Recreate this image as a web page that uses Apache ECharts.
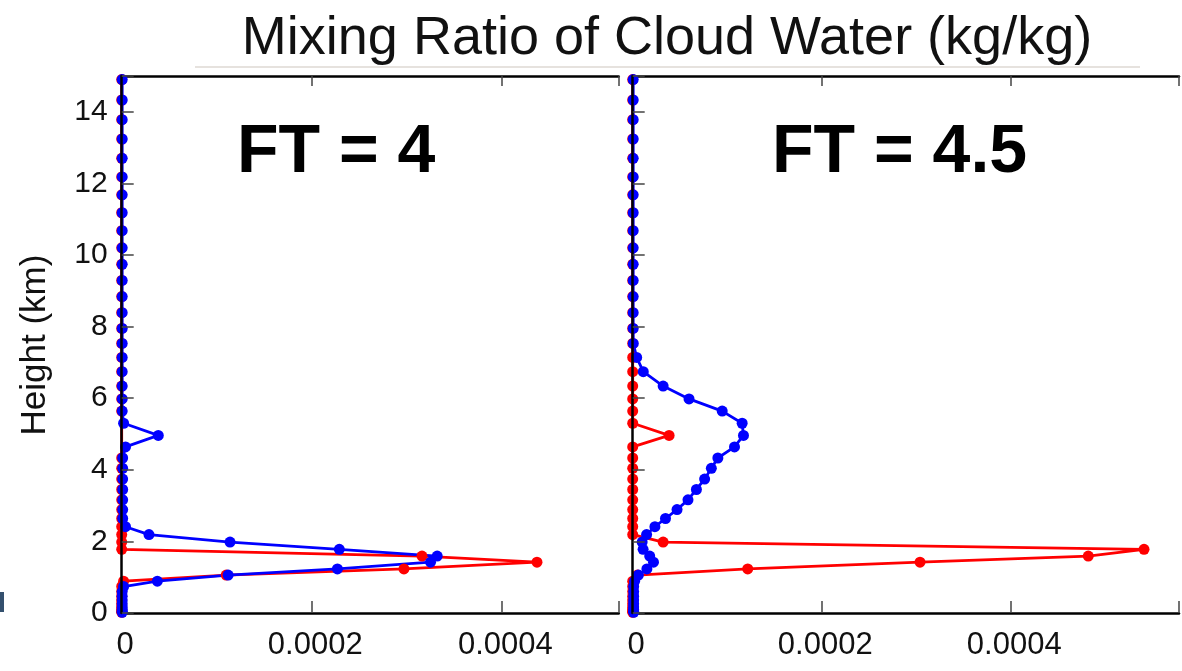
<!DOCTYPE html>
<html>
<head>
<meta charset="utf-8">
<script src="https://cdn.jsdelivr.net/npm/echarts@6/dist/echarts.min.js"></script>
<style>
html,body{margin:0;padding:0;background:#fff;}
#chart{width:1182px;height:671px;}
</style>
</head>
<body>
<div id="chart"></div>
<script>
// Model level heights (km), bottom to top
const heights = [0.02,0.05,0.10,0.17,0.26,0.36,0.47,0.60,0.74,0.89,1.06,1.23,1.42,1.59,1.78,1.98,2.19,2.41,2.64,2.89,3.16,3.45,3.74,4.04,4.33,4.64,4.96,5.30,5.64,5.98,6.34,6.74,7.14,7.53,7.95,8.39,8.84,9.29,9.74,10.20,10.68,11.18,11.68,12.18,12.70,13.24,13.78,14.33,14.90];

// FT = 4 panel (null = no red marker drawn at that level)
const leftRed = [0,0,0,0,0,0,0,0,0,0.000002,0.00011,0.000297,0.000437,0.000316,0,0,0,0,0,0,0,0,0,0,0,null,null,null,0,0,0,0,0,0,0,0,0,0,0,0,0,0,0,0,0,0,0,0,0];
const leftBlue = [0.0000005,0.0000005,0.0000005,0.0000005,0.0000005,0.0000005,0.0000005,0.0000005,0.000002,0.0000375,0.000112,0.000227,0.000325,0.000332,0.000229,0.000114,0.0000287,0.000004,0.000001,0.000001,0.000001,0.000001,0.000001,0.000001,0.000001,0.000004,0.0000385,0.000002,0.0000005,0.0000005,0.0000005,0.0000005,0.0000005,0.0000005,0.0000005,0.0000005,0.0000005,0.0000005,0.0000005,0.0000005,0.0000005,0.0000005,0.0000005,0.0000005,0.0000005,0.0000005,0.0000005,0.0000005,0.0000005];

// FT = 4.5 panel
const rightRed = [0,0,0,0,0,0,0,0,0,0,0.000005,0.0001217,0.000304,0.000482,0.000541,0.0000322,0,0,0,0,0,0,0,0,0,0,0.0000385,0,0,0,0,0,0,0,0,0,0,0,0,0,0,0,0,0,0,0,0,0,0];
const rightBlue = [0.000001,0.000001,0.000001,0.000001,0.000001,0.000001,0.000001,0.000001,0.000001,0.000002,0.000006,0.000015,0.000022,0.000018,0.000011,0.000010,0.0000147,0.0000235,0.0000347,0.0000469,0.0000585,0.0000674,0.0000761,0.0000832,0.0000901,0.0001077,0.0001172,0.0001158,0.0000947,0.0000596,0.0000322,0.0000112,0.0000042,0.0000006,0.0000005,0.0000005,0.0000005,0.0000005,0.0000005,0.0000005,0.0000005,0.0000005,0.0000005,0.0000005,0.0000005,0.0000005,0.0000005,0.0000005,0.0000005];

const panelLabels = ['FT = 4', 'FT = 4.5'];
const xTickLabels = ['0', '0.0002', '0.0004'];
const titleText = 'Mixing Ratio of Cloud Water (kg/kg)';
const yName = 'Height (km)';

const pairs = (xs) => xs.map((v, i) => [v, heights[i]]).filter(p => p[0] !== null);
const FONT = '"Liberation Sans", Arial, sans-serif';

const chart = echarts.init(document.getElementById('chart'), null, {renderer: 'canvas'});

function xBottom(gi, max) {
  return {
    type: 'value', gridIndex: gi, min: 0, max: max, interval: 0.0002, position: 'bottom',
    axisLine: {show: true, lineStyle: {color: '#000', width: 2.5}},
    axisTick: {show: true, inside: true, length: 12, lineStyle: {color: '#444', width: 1.5}},
    splitLine: {show: false},
    axisLabel: {
      show: true, margin: 17, color: '#111', fontSize: 31, fontFamily: FONT, padding: [0, 0, 0, 7],
      formatter: function (v) {
        const k = Math.round(v / 0.0002);
        return Math.abs(v - k * 0.0002) < 1e-9 && k < xTickLabels.length ? xTickLabels[k] : '';
      }
    }
  };
}
function xTop(gi, max) {
  return {
    type: 'value', gridIndex: gi, min: 0, max: max, interval: 0.0002, position: 'top',
    axisLine: {show: true, lineStyle: {color: '#000', width: 2.5}},
    axisTick: {show: true, inside: true, length: 10, lineStyle: {color: '#444', width: 1.5}},
    splitLine: {show: false}, axisLabel: {show: false}
  };
}
function yAx(gi, showLabels) {
  return {
    type: 'value', gridIndex: gi, min: 0, max: 15, interval: 2, z: 5,
    axisLine: {show: true, onZero: false, lineStyle: {color: '#000', width: 2.5}},
    axisTick: {show: true, inside: true, length: 12, lineStyle: {color: '#444', width: 1.5}},
    splitLine: {show: false},
    axisLabel: {
      show: showLabels, margin: 14, color: '#111', fontSize: 30, fontFamily: FONT,
      formatter: function (v) { return (v % 2 === 0) ? String(v) : ''; }
    }
  };
}
function ser(data, color, xi, yi) {
  return {
    type: 'line', xAxisIndex: xi, yAxisIndex: yi, data: pairs(data),
    symbol: 'circle', symbolSize: 11, showAllSymbol: true,
    lineStyle: {color: color, width: 2.8},
    itemStyle: {color: color},
    emphasis: {disabled: true}, z: 2
  };
}

const option = {
  animation: false,
  backgroundColor: '#fff',
  grid: [
    {left: 121.7, top: 76, width: 497, height: 537},
    {left: 632.7, top: 76, width: 549.3, height: 537}
  ],
  xAxis: [xBottom(0, 0.000523), xBottom(1, 0.000578), xTop(0, 0.000523), xTop(1, 0.000578)],
  yAxis: [yAx(0, true), yAx(1, false)],
  series: [
    ser(leftRed, '#ff0000', 0, 0),
    ser(leftBlue, '#0000ff', 0, 0),
    ser(rightRed, '#ff0000', 1, 1),
    ser(rightBlue, '#0000ff', 1, 1)
  ],
  graphic: [
    {type: 'line', shape: {x1: 195, y1: 67, x2: 1140, y2: 67}, style: {stroke: '#e6e2de', lineWidth: 2}, z: 1},
    {type: 'text', x: 667, y: 39, style: {text: titleText, font: '54px ' + FONT, fill: '#111', textAlign: 'center', textVerticalAlign: 'middle'}, z: 10},
    {type: 'text', x: 35, y: 345, rotation: Math.PI / 2, style: {text: yName, font: '35px ' + FONT, fill: '#111', textAlign: 'center', textVerticalAlign: 'middle'}, z: 10},
    {type: 'text', x: 237, y: 153, style: {text: panelLabels[0], font: 'bold 68px ' + FONT, fill: '#000', textAlign: 'left', textVerticalAlign: 'middle'}, z: 10},
    {type: 'text', x: 772, y: 153, style: {text: panelLabels[1], font: 'bold 68px ' + FONT, fill: '#000', textAlign: 'left', textVerticalAlign: 'middle'}, z: 10},
    {type: 'rect', shape: {x: 0, y: 592, width: 4, height: 20}, style: {fill: '#34506e'}, z: 1}
  ]
};
chart.setOption(option);
</script>
</body>
</html>
